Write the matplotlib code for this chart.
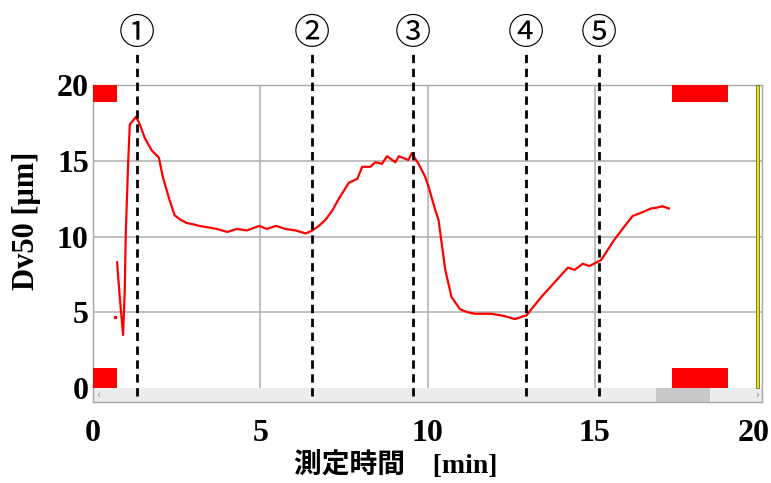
import matplotlib.pyplot as plt
import matplotlib.transforms as mtransforms
from matplotlib.patches import Rectangle

# Dv50 trace
t_min = [0.72, 0.80, 0.90, 0.95, 0.98, 1.05, 1.10, 1.18, 1.28, 1.38, 1.55, 1.75, 1.97,
         2.09, 2.29, 2.44, 2.62, 2.79, 3.00, 3.18, 3.45, 3.70, 4.02, 4.30, 4.60, 4.97,
         5.20, 5.47, 5.75, 6.06, 6.36, 6.56, 6.75, 6.95, 7.15, 7.35, 7.65, 7.90, 8.05,
         8.29, 8.44, 8.64, 8.79, 9.04, 9.14, 9.43, 9.53, 9.73, 9.93, 10.03, 10.23, 10.33,
         10.53, 10.72, 10.97, 11.20, 11.42, 11.91, 12.30, 12.61, 12.96, 13.40, 13.85,
         14.20, 14.40, 14.64, 14.84, 15.19, 15.59, 15.90, 16.13, 16.48, 16.68, 16.85,
         17.02, 17.22]
dv50 = [8.3, 6.0, 3.5, 6.5, 10.2, 14.8, 17.4, 17.6, 17.9, 17.5, 16.5, 15.7, 15.2,
        13.9, 12.4, 11.4, 11.1, 10.9, 10.8, 10.7, 10.6, 10.5, 10.3, 10.5, 10.4, 10.7,
        10.5, 10.7, 10.5, 10.4, 10.2, 10.4, 10.7, 11.1, 11.7, 12.5, 13.55, 13.8, 14.6,
        14.6, 14.9, 14.8, 15.3, 14.9, 15.3, 15.05, 15.5, 14.8, 13.95, 13.3, 11.75, 11.1,
        7.8, 6.0, 5.2, 5.0, 4.9, 4.9, 4.75, 4.55, 4.8, 6.0, 7.1,
        7.95, 7.8, 8.2, 8.05, 8.45, 9.8, 10.7, 11.35, 11.65, 11.85, 11.9,
        12.0, 11.85]
stray_t = [0.65]
stray_dv = [4.7]

marker_t = [1.31, 6.55, 9.57, 12.95, 15.12]
marker_labels = ['①', '②', '③', '④', '⑤']

xticks = [0, 5, 10, 15, 20]
yticks = [0, 5, 10, 15, 20]

serif = ['Liberation Serif', 'DejaVu Serif']

fig = plt.figure(figsize=(7.71, 4.83), dpi=100)
ax = fig.add_axes([93/771, 81/483, 669/771, 317/483])
ax.set_xlim(0, 20)
ax.set_ylim(-0.924, 20)

# grid (only in the plotting band above the scroll bar)
for g in [5, 10, 15]:
    ax.plot([g, g], [0, 20], color='#b4b4b4', lw=1.2, zorder=1)
    ax.plot([0, 20], [g, g], color='#b4b4b4', lw=1.2, zorder=1)

for s in ax.spines.values():
    s.set_color('#a8a8a8')
    s.set_linewidth(1.0)

# scroll bar
ax.add_patch(Rectangle((0, -0.924), 20, 0.924, facecolor='#ececec', edgecolor='none', zorder=2))
ax.add_patch(Rectangle((16.83, -0.924), 1.61, 0.924, facecolor='#c8c8c8', edgecolor='none', zorder=2))
ax.text(0.15, -0.46, '‹', color='#888888', fontsize=7, ha='center', va='center', zorder=3)
ax.text(19.85, -0.46, '›', color='#888888', fontsize=7, ha='center', va='center', zorder=3)

# red range blocks
for x0, w in [(0, 0.72), (17.3, 1.68)]:
    ax.add_patch(Rectangle((x0, 18.88), w, 1.12, facecolor='#ff0000', edgecolor='none', zorder=3))
    ax.add_patch(Rectangle((x0, 0), w, 1.3, facecolor='#ff0000', edgecolor='none', zorder=3))

# yellow cursor
ax.add_patch(Rectangle((19.82, 0), 0.09, 20, facecolor='#e8e800', edgecolor='#6a6a20',
                       lw=0.6, zorder=3))

ax.plot(t_min, dv50, color='#ff0000', lw=1.6, zorder=4)
ax.plot(stray_t, stray_dv, 's', color='#ff0000', ms=1.5, zorder=4)

for t, lab in zip(marker_t, marker_labels):
    ax.plot([t, t], [-0.5, 22.2], color='black', lw=2.0, ls=(0, (3, 2)),
            clip_on=False, zorder=5)
    ax.text(t, 23.35, lab, fontsize=26, ha='center', va='center',
            family=['Noto Sans CJK JP', 'DejaVu Sans'], clip_on=False)

ax.set_xticks(xticks)
ax.set_yticks(yticks)
ax.tick_params(length=0)
ax.tick_params(axis='x', pad=12)
ax.tick_params(axis='y', pad=3)
for lab in ax.get_xticklabels() + ax.get_yticklabels():
    lab.set_family(serif)
    lab.set_fontweight('bold')
    lab.set_fontsize(23)
# last x label sits against the right edge of the picture
last = ax.get_xticklabels()[-1]
last.set_transform(last.get_transform() +
                   mtransforms.ScaledTranslation(-6/72, 0, fig.dpi_scale_trans))

ax.set_ylabel('Dv50 [μm]', family=serif, fontweight='bold', fontsize=22)
ax.yaxis.set_label_coords(-0.077, 0.57)
ax.set_xlabel('測定時間\u3000[min]', family=['Liberation Serif', 'Noto Sans CJK JP'],
              fontweight='bold', fontsize=20)
ax.xaxis.set_label_coords(0.453, -0.155)

fig.savefig('out.png', dpi=100, facecolor='white')
